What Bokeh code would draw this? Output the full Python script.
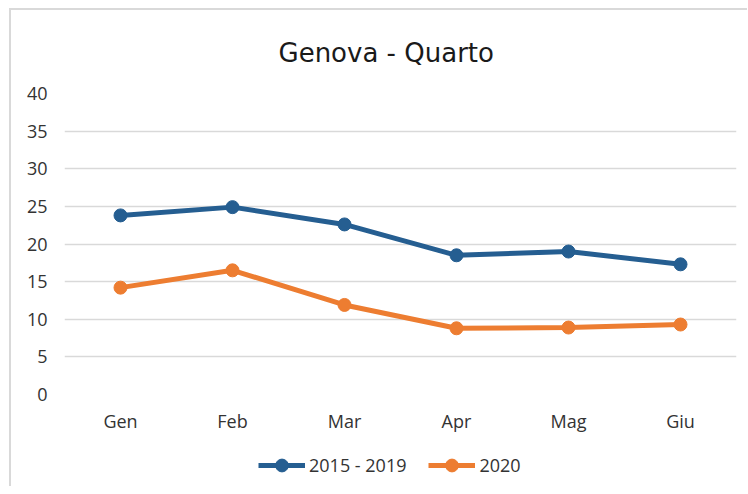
from bokeh.plotting import figure
from bokeh.layouts import column
from bokeh.models import Legend, LegendItem, FactorRange, Range1d, FixedTicker
from bokeh.embed import file_html
from bokeh.resources import INLINE

months = ["Gen", "Feb", "Mar", "Apr", "Mag", "Giu"]
series_2015_2019 = [23.8, 24.9, 22.6, 18.5, 19.0, 17.3]
series_2020 = [14.2, 16.5, 11.9, 8.8, 8.9, 9.3]
y_ticks = [0, 5, 10, 15, 20, 25, 30, 35, 40]
labels = ["2015 - 2019", "2020"]

BLUE = "#255E91"
ORANGE = "#ED7D31"
FONT = "Open Sans"

# main chart
p1 = figure(width=736, height=429, x_range=FactorRange(*months, range_padding=0),
            y_range=Range1d(0, 40), output_backend="svg", toolbar_location=None,
            min_border_left=53, min_border_right=11, min_border_top=83, min_border_bottom=45)

p1.title.text = "Genova - Quarto"
p1.title.align = "left"
p1.title.offset = 214
p1.title.text_font = "DejaVu Sans"
p1.title.text_font_size = "26px"
p1.title.text_font_style = "normal"
p1.title.text_color = "#1a1a1a"
p1.title.standoff = 51

p1.outline_line_color = None

for ax in (p1.xaxis[0], p1.yaxis[0]):
    ax.axis_line_color = None
    ax.major_tick_line_color = None
    ax.minor_tick_line_color = None
    ax.major_tick_out = 0
    ax.major_tick_in = 0
    ax.minor_tick_out = 0
    ax.major_label_text_font = FONT
    ax.major_label_text_font_size = "18px"
    ax.major_label_text_color = "#333333"
p1.yaxis[0].ticker = FixedTicker(ticks=y_ticks)
p1.yaxis[0].major_label_standoff = 17
p1.xaxis[0].major_label_standoff = 14

p1.xgrid.grid_line_color = None
p1.ygrid.grid_line_color = "#d9d9d9"
p1.ygrid.grid_line_width = 1.5
p1.ygrid.ticker = FixedTicker(ticks=y_ticks)

p1.line(months, series_2015_2019, line_color=BLUE, line_width=5)
p1.scatter(months, series_2015_2019, size=13, fill_color=BLUE, line_color=BLUE)
p1.line(months, series_2020, line_color=ORANGE, line_width=5)
p1.scatter(months, series_2020, size=13, fill_color=ORANGE, line_color=ORANGE)

# legend strip below the chart (same series, drawn outside its visible y range)
p2 = figure(width=736, height=47, x_range=FactorRange(*months, range_padding=0),
            y_range=Range1d(-200, -100),
            output_backend="svg", toolbar_location=None,
            x_axis_location=None, y_axis_location=None,
            min_border_left=53, min_border_right=11, min_border_top=0, min_border_bottom=0)
p2.grid.grid_line_color = None
p2.outline_line_color = None

r1 = p2.line(months, series_2015_2019, line_color=BLUE, line_width=5)
m1 = p2.scatter(months, series_2015_2019, size=13, fill_color=BLUE, line_color=BLUE)
r2 = p2.line(months, series_2020, line_color=ORANGE, line_width=5)
m2 = p2.scatter(months, series_2020, size=13, fill_color=ORANGE, line_color=ORANGE)

legend = Legend(items=[LegendItem(label=labels[0], renderers=[r1, m1]),
                       LegendItem(label=labels[1], renderers=[r2, m2])],
                orientation="horizontal", location=(194, 5),
                glyph_width=47, glyph_height=32, label_standoff=4, spacing=22,
                border_line_color=None, background_fill_alpha=0,
                label_text_font=FONT, label_text_font_size="18px", label_text_color="#333333",
                margin=0, padding=0)
p2.add_layout(legend, "center")

p = column(p1, p2, spacing=0)
p.styles = {"margin-top": "8px", "margin-left": "9px",
            "border-top": "2px solid #d9d9d9", "border-left": "2px solid #d9d9d9"}

open("out.html", "w").write(file_html(p, INLINE))
